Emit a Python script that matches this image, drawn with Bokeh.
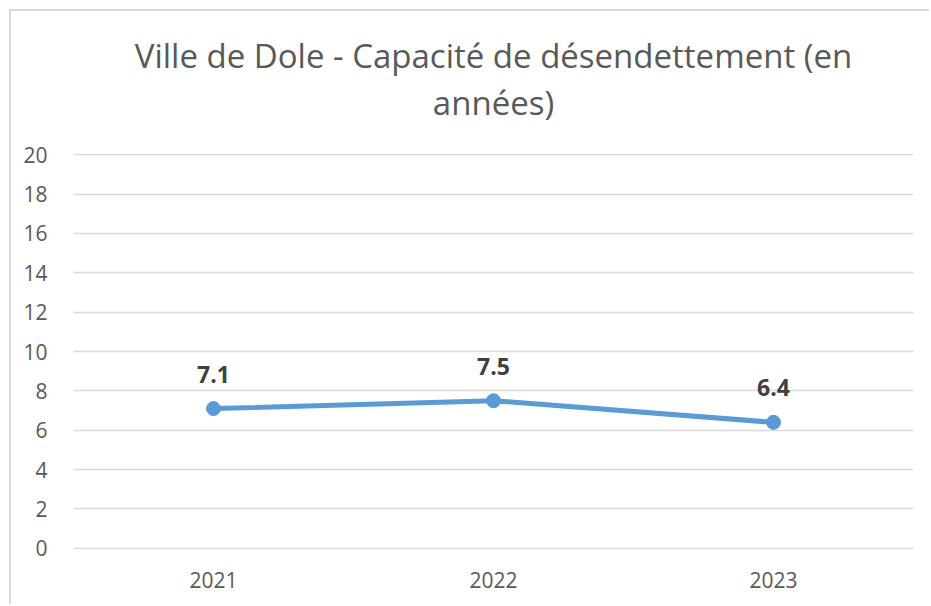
from bokeh.plotting import figure
from bokeh.models import ColumnDataSource, Range1d, FactorRange, LabelSet, FixedTicker, Title
from bokeh.core.properties import value
from bokeh.embed import file_html
from bokeh.resources import INLINE

title_lines = ["Ville de Dole - Capacité de désendettement (en", "années)"]
years = ["2021", "2022", "2023"]
values = [7.1, 7.5, 6.4]
label_texts = ["7.1", "7.5", "6.4"]
y_ticks = [0, 2, 4, 6, 8, 10, 12, 14, 16, 18, 20]

FONT = "Open Sans"
src = ColumnDataSource(dict(x=years, y=values, t=label_texts))

p = figure(width=920, height=595, output_backend="svg", toolbar_location=None,
           x_range=FactorRange(*years, range_padding=0), y_range=Range1d(-0.06, 20.06),
           min_border_left=62, min_border_right=18, min_border_bottom=57, min_border_top=0)
p.styles = {"margin-left": "9px", "margin-top": "9px",
            "border-left": "2px solid #d9d9d9", "border-top": "2px solid #d9d9d9"}


def spacer(gap):
    return Title(text="\u00a0", align="center", text_font=FONT, text_font_size="1px",
                 text_color="#ffffff", standoff=gap)


titles = [Title(text=line, align="center", text_font=FONT, text_font_size="33px",
                text_font_style="normal", text_color="#595959", standoff=0, offset=0)
          for line in title_lines]
p.title = None
p.above = [spacer(26)] + list(reversed(titles)) + [spacer(16)]

p.outline_line_color = None
p.background_fill_color = "white"
p.border_fill_color = "white"

p.xgrid.grid_line_color = None
p.ygrid.grid_line_color = "#d9d9d9"
p.ygrid.grid_line_width = 1.5
p.yaxis.ticker = FixedTicker(ticks=y_ticks)

for ax in (p.xaxis, p.yaxis):
    ax.axis_line_color = None
    ax.major_tick_line_color = None
    ax.minor_tick_line_color = None
    ax.major_label_text_font = FONT
    ax.major_label_text_font_size = "21px"
    ax.major_label_text_color = "#595959"
p.xaxis.major_label_standoff = 16
p.yaxis.major_label_standoff = 20

p.line("x", "y", source=src, line_color="#5B9BD5", line_width=5)
p.scatter("x", "y", source=src, size=14, fill_color="#5B9BD5", line_color="#5B9BD5")

labels = LabelSet(x="x", y="y", text="t", source=src, y_offset=26, text_align="center",
                  text_baseline="bottom", text_font=value(FONT), text_font_size=value("23px"),
                  text_font_style="bold", text_color="#404040")
p.add_layout(labels)

open("out.html", "w").write(file_html(p, INLINE))
